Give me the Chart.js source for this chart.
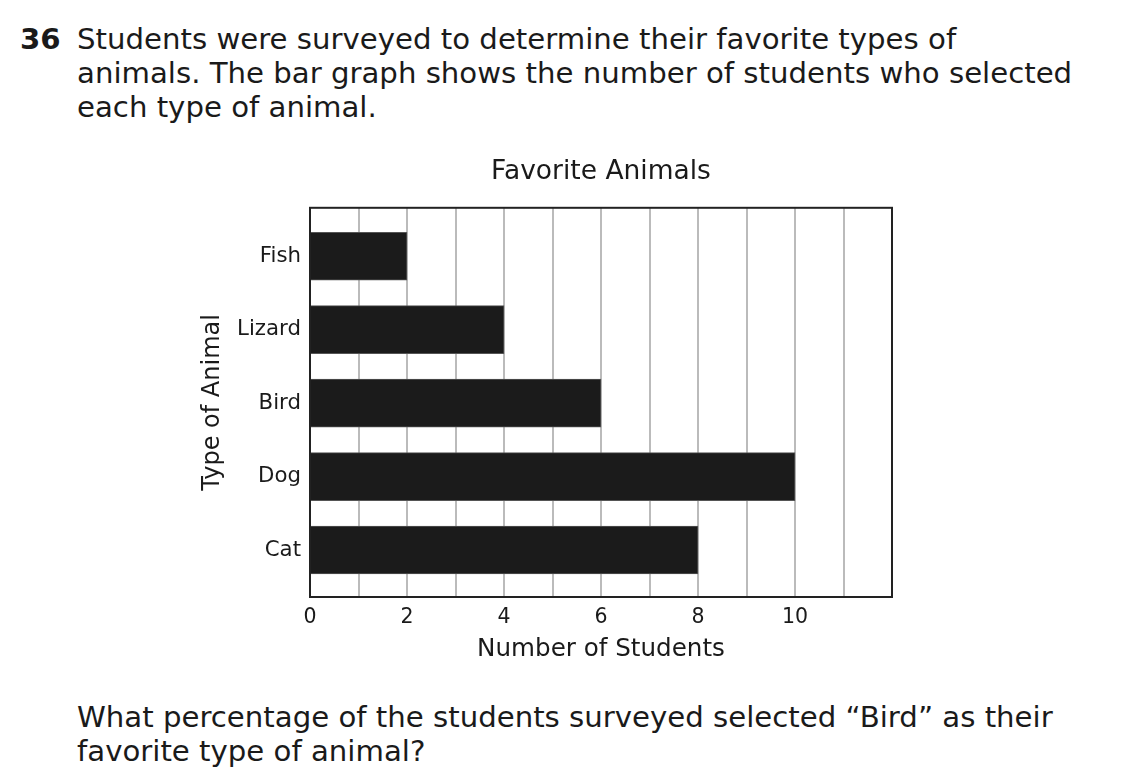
<!DOCTYPE html>
<html>
<head>
<meta charset="utf-8">
<script src="https://cdn.jsdelivr.net/npm/chart.js@4"></script>
<style>
  body { margin: 0; background: #fff; font-family: "DejaVu Sans", Verdana, sans-serif; color: #1a1a1a; }
  .q { position: absolute; left: 20px; font-size: 29.2px; line-height: 34px; }
  .q b { display: inline-block; width: 57px; }
  .q .t { position: absolute; left: 57px; top: 0; width: 1050px; }
  #wrap { position: absolute; left: 180px; top: 140px; width: 750px; height: 540px; }
  .bottom { position: absolute; left: 77px; top: 700px; font-size: 29.2px; line-height: 34px; }
</style>
</head>
<body>
<div class="q" style="top:22px"><b>36</b><div class="t">Students were surveyed to determine their favorite types of<br>animals. The bar graph shows the number of students who selected<br>each type of animal.</div></div>
<div id="wrap"><canvas id="Chart"></canvas></div>
<div class="bottom">What percentage of the students surveyed selected “Bird” as their<br>favorite type of animal?</div>
<script>
let animals = ['Fish', 'Lizard', 'Bird', 'Dog', 'Cat'];
let students = [2, 4, 6, 10, 8];
let xMax = 12;

let graph = document.getElementById('Chart');
let fontName = '"DejaVu Sans", Verdana, sans-serif';

// box round the plot area (top and right sides too)
let frame = {
    id: 'frame',
    afterDraw(chart) {
        let a = chart.chartArea;
        let ctx = chart.ctx;
        ctx.save();
        ctx.strokeStyle = '#222';
        ctx.lineWidth = 2;
        ctx.strokeRect(a.left, a.top, a.right - a.left, a.bottom - a.top);
        ctx.restore();
    },
};

let chartdtl = {
    type: 'bar',
    data: {
        datasets: [{
            data: students.map((v, i) => ({ x: v, y: i })),
            backgroundColor: '#1b1b1b',
            borderColor: '#555',
            borderWidth: 1,
            barThickness: 48,
        }],
    },
    plugins: [frame],
    options: {
        indexAxis: 'y',
        responsive: true,
        maintainAspectRatio: false,
        animation: false,
        layout: { padding: { left: 0, right: 38, top: 0, bottom: 0 } },
        plugins: {
            legend: { display: false },
            tooltip: { enabled: false },
            title: {
                display: true,
                fullSize: false,
                text: 'Favorite Animals',
                color: '#1a1a1a',
                font: { family: fontName, size: 26.5, weight: 'normal' },
                padding: { top: 16, bottom: 20 },
            },
        },
        scales: {
            x: {
                type: 'linear',
                min: 0,
                max: xMax,
                afterFit(scale) { scale.height = 83; },
                grid: { color: '#bbb', lineWidth: 2, drawTicks: false },
                border: { display: false },
                ticks: {
                    stepSize: 1,
                    padding: 8,
                    color: '#1a1a1a',
                    font: { family: fontName, size: 20.5 },
                    callback: (v) => (v % 2 === 0 && v < xMax ? v : ''),
                },
                title: {
                    display: true,
                    text: 'Number of Students',
                    color: '#1a1a1a',
                    font: { family: fontName, size: 24.6 },
                    padding: { top: 4, bottom: 16 },
                },
            },
            y: {
                type: 'linear',
                min: -0.66,
                max: 4.64,
                reverse: true,
                offset: false,
                afterFit(scale) { scale.width = 130; },
                grid: { display: false, drawTicks: false },
                border: { display: false },
                ticks: {
                    stepSize: 1,
                    padding: 9,
                    color: '#1a1a1a',
                    font: { family: fontName, size: 21.3 },
                    callback: (v) => (Number.isInteger(v) && animals[v] ? animals[v] : ''),
                },
                title: {
                    display: true,
                    text: 'Type of Animal',
                    color: '#1a1a1a',
                    font: { family: fontName, size: 24 },
                    padding: { top: 18, bottom: 0 },
                },
            },
        },
    },
};

let presentdata = new Chart(graph, chartdtl);
</script>
</body>
</html>
